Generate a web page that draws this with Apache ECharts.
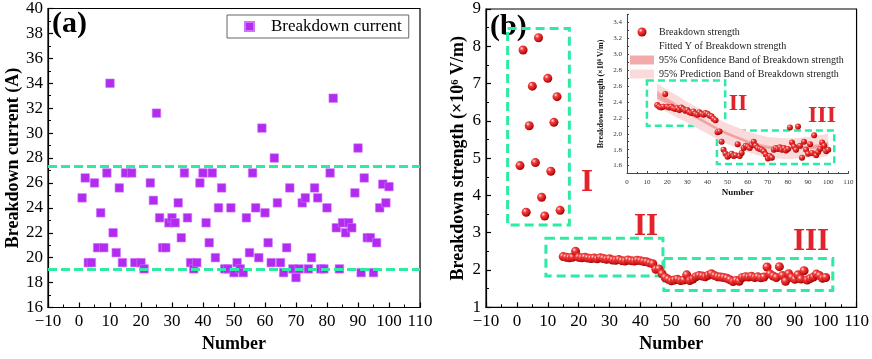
<!DOCTYPE html>
<html>
<head>
<meta charset="utf-8">
<script src="https://cdn.jsdelivr.net/npm/echarts@6.0.0/dist/echarts.min.js"></script>
<style>
  html, body { margin: 0; padding: 0; background: #fff; }
  #main { width: 872px; height: 359px; }
</style>
</head>
<body>
<div id="main"></div>
<script>
// (a) breakdown current
const numA = [
  1, 2, 3, 4, 5, 6, 7, 8, 9, 10,
  11, 12, 13, 14, 15, 17, 18, 20, 21, 23,
  24, 25, 26, 27, 28, 29, 30, 31, 32, 33,
  34, 35, 36, 37, 38, 39, 40, 41, 42, 43,
  44, 45, 46, 47, 48, 49, 50, 51, 52, 53,
  54, 55, 56, 57, 58, 59, 60, 61, 62, 63,
  64, 65, 66, 67, 68, 69, 70, 71, 72, 73,
  74, 75, 76, 77, 78, 79, 80, 81, 82, 83,
  84, 85, 86, 87, 88, 89, 90, 91, 92, 93,
  94, 95, 96, 97, 98, 99, 100
]
const currentA = [
  24.8, 26.4, 19.6, 19.6, 26.0, 20.8, 23.6, 20.8, 26.8, 34.0,
  22.0, 20.4, 25.6, 19.6, 26.8, 26.8, 19.6, 19.6, 19.1, 26.0,
  24.6, 31.6, 23.2, 20.8, 20.8, 22.8, 23.2, 22.8, 24.4, 21.6,
  26.8, 23.2, 19.6, 19.1, 19.6, 26.0, 26.8, 22.8, 21.2, 26.8,
  20.0, 24.0, 25.6, 19.1, 19.1, 24.0, 18.8, 19.6, 19.1, 18.8,
  23.2, 20.4, 26.8, 24.0, 20.0, 30.4, 23.6, 21.2, 19.6, 28.0,
  24.4, 19.6, 18.8, 20.8, 25.6, 19.1, 18.4, 19.1, 24.4, 24.8,
  19.1, 20.0, 25.6, 24.8, 19.1, 19.1, 24.0, 26.8, 32.8, 22.4,
  19.1, 22.8, 22.0, 22.8, 22.4, 25.2, 28.8, 18.8, 26.4, 21.6,
  21.6, 18.8, 21.2, 24.0, 25.9, 24.4, 25.7
]
// dashed limit lines of (a)
const limitsA = [27.3, 19.1]

// (b) breakdown strength (x10^6 V/m)
const numB = [
  1, 2, 3, 4, 5, 6, 7, 8, 9, 10,
  11, 12, 13, 14, 15, 16, 17, 18, 19, 20,
  21, 22, 23, 24, 25, 26, 27, 28, 29, 30,
  31, 32, 33, 34, 35, 36, 37, 38, 39, 40,
  41, 42, 43, 44, 45, 46, 47, 48, 49, 50,
  51, 52, 53, 54, 55, 56, 57, 58, 59, 60,
  61, 62, 63, 64, 65, 66, 67, 68, 69, 70,
  71, 72, 73, 74, 75, 76, 77, 78, 79, 80,
  81, 82, 83, 84, 85, 86, 87, 88, 89, 90,
  91, 92, 93, 94, 95, 96, 97, 98, 99, 100
]
const strengthB = [
  4.80, 7.90, 3.55, 5.87, 6.93, 4.88, 8.23, 3.95, 3.45, 7.14,
  4.65, 5.96, 6.65, 3.60, 2.36, 2.34, 2.33, 2.34, 2.50, 2.34,
  2.33, 2.34, 2.32, 2.31, 2.32, 2.30, 2.33, 2.31, 2.29, 2.30,
  2.27, 2.26, 2.28, 2.25, 2.24, 2.27, 2.25, 2.24, 2.26, 2.25,
  2.23, 2.22, 2.19, 2.17, 2.02, 2.03, 1.90, 1.80, 1.75, 1.71,
  1.73, 1.75, 1.72, 1.73, 1.87, 1.72, 1.76, 1.82, 1.85, 1.84,
  1.82, 1.86, 1.90, 1.85, 1.82, 1.81, 1.80, 1.78, 1.74, 1.69,
  1.72, 1.70, 1.80, 1.82, 1.81, 1.83, 1.80, 1.82, 1.79, 1.81,
  2.08, 1.89, 1.84, 1.80, 2.09, 1.85, 1.70, 1.90, 1.80, 1.75,
  1.87, 1.76, 1.98, 1.73, 1.77, 1.81, 1.89, 1.85, 1.78, 1.80
]
// inset shows stages II and III only (from No. 15)
const insetStart = 14

// inset fit and bands
const fitX = [15, 20, 25, 30, 35, 40, 45, 50, 55, 60, 65, 70, 75, 80, 85, 90, 95, 100]
const fitY = [2.49, 2.41, 2.34, 2.27, 2.20, 2.13, 2.06, 2.00, 1.95, 1.90, 1.86, 1.83, 1.82, 1.81, 1.82, 1.83, 1.84, 1.86]
const confLow = [2.44, 2.37, 2.31, 2.245, 2.18, 2.11, 2.04, 1.98, 1.93, 1.88, 1.84, 1.81, 1.80, 1.79, 1.80, 1.81, 1.81, 1.82]
const confHigh = [2.54, 2.45, 2.37, 2.295, 2.22, 2.15, 2.08, 2.02, 1.97, 1.92, 1.88, 1.85, 1.84, 1.83, 1.84, 1.85, 1.87, 1.90]
const predLow = [2.35, 2.27, 2.20, 2.14, 2.07, 2.00, 1.93, 1.87, 1.82, 1.77, 1.73, 1.70, 1.69, 1.68, 1.69, 1.70, 1.70, 1.72]
const predHigh = [2.63, 2.55, 2.48, 2.40, 2.33, 2.26, 2.19, 2.13, 2.08, 2.03, 1.99, 1.96, 1.95, 1.94, 1.95, 1.96, 1.98, 2.00]

// stage boxes [x1, y1, x2, y2] in data units
const boxesMain = [[-3, 3.21, 17, 8.48], [9.4, 1.84, 47.3, 2.85], [47.6, 1.45, 102.3, 2.31]]
const boxesInset = [[9.9, 2.10, 48.8, 2.67], [44.7, 1.62, 103, 2.04]]

const serif = 'Liberation Serif'
const green = '#2DEBA3'
const red = '#E3232C'

const chart = echarts.init(document.getElementById('main'), null, { renderer: 'canvas' })

const sphere = new echarts.graphic.RadialGradient(0.35, 0.32, 0.7, [
  { offset: 0, color: '#FFE8E8' },
  { offset: 0.3, color: '#F24040' },
  { offset: 0.8, color: '#CC1010' },
  { offset: 1, color: '#8E0000' },
])

function minus(v) {
  return String(v).replace('-', '\u2212')
}

function mainX(grid) {
  return {
    gridIndex: grid, type: 'value', min: -10, max: 110, interval: 10,
    name: 'Number', nameLocation: 'middle', nameGap: 28,
    nameTextStyle: { fontFamily: serif, fontWeight: 'bold', fontSize: 18, color: '#000' },
    axisLine: { onZero: false, lineStyle: { color: '#000', width: 1.2 } },
    axisTick: { inside: true, length: 5, lineStyle: { color: '#000', width: 1.2 } },
    minorTick: { show: true, splitNumber: 2, length: 3, lineStyle: { color: '#000', width: 1 } },
    splitLine: { show: false },
    axisLabel: { fontFamily: serif, fontSize: 17, color: '#000', margin: 6, formatter: minus },
  }
}

function mainY(grid, min, max, step, name, gap) {
  return {
    gridIndex: grid, type: 'value', min: min, max: max, interval: step,
    name: name, nameLocation: 'middle', nameGap: gap,
    nameTextStyle: { fontFamily: serif, fontWeight: 'bold', fontSize: 18, color: '#000' },
    axisLine: { onZero: false, lineStyle: { color: '#000', width: 1.2 } },
    axisTick: { inside: true, length: 5, lineStyle: { color: '#000', width: 1.2 } },
    minorTick: { show: true, splitNumber: 2, length: 3, lineStyle: { color: '#000', width: 1 } },
    splitLine: { show: false },
    axisLabel: { fontFamily: serif, fontSize: 17, color: '#000', margin: 5 },
  }
}

function boxArea(boxes, width, dash) {
  return {
    silent: true,
    label: { show: false },
    itemStyle: { color: 'rgba(0,0,0,0)', borderColor: green, borderWidth: width, borderType: dash },
    data: boxes.map(b => [{ coord: [b[0], b[3]] }, { coord: [b[2], b[1]] }]),
  }
}

function band(lo, hi, color) {
  return function (params, api) {
    const pts = []
    fitX.forEach((x, i) => pts.push(api.coord([x, hi[i]])))
    for (let i = fitX.length - 1; i >= 0; i--) pts.push(api.coord([fitX[i], lo[i]]))
    return { type: 'polygon', shape: { points: pts }, style: { fill: color } }
  }
}

const insetText = { fontFamily: serif, fontSize: 7, color: '#333' }

const option = {
  backgroundColor: '#fff',
  animation: false,
  grid: [
    { left: 48, top: 7.5, width: 372, height: 300, show: true, borderColor: '#000', borderWidth: 1.2 },
    { left: 486, top: 9, width: 372, height: 298.3, show: true, borderColor: '#000', borderWidth: 1.2 },
    { left: 627, top: 14.3, width: 221.3, height: 159.3, show: false },
  ],
  xAxis: [
    mainX(0),
    mainX(1),
    {
      gridIndex: 2, type: 'value', min: 0, max: 110, interval: 10,
      name: 'Number', nameLocation: 'middle', nameGap: 15,
      nameTextStyle: { fontFamily: serif, fontWeight: 'bold', fontSize: 9, color: '#111' },
      axisLine: { onZero: false, lineStyle: { color: '#444', width: 1 } },
      axisTick: { inside: true, length: 2.5, lineStyle: { color: '#444' } },
      minorTick: { show: true, splitNumber: 2, length: 1.5, lineStyle: { color: '#444' } },
      splitLine: { show: false },
      axisLabel: Object.assign({ margin: 5 }, insetText),
    },
  ],
  yAxis: [
    mainY(0, 16, 40, 2, 'Breakdown current (A)', 25),
    mainY(1, 1, 9, 1, 'Breakdown strength (\u00d710\u2076 V/m)', 19),
    {
      gridIndex: 2, type: 'value', min: 1.5, max: 3.5, interval: 0.1,
      name: 'Breakdown strength (\u00d710\u2076 V/m)', nameLocation: 'middle', nameGap: 22,
      nameTextStyle: { fontFamily: serif, fontWeight: 'bold', fontSize: 8, color: '#111' },
      axisLine: { onZero: false, lineStyle: { color: '#444', width: 1 } },
      axisTick: { inside: true, length: 2, lineStyle: { color: '#444' } },
      splitLine: { show: false },
      axisLabel: Object.assign({
        margin: 5,
        formatter: v => (Math.round(v * 10) % 2 === 0 ? v.toFixed(1) : ''),
      }, insetText),
    },
  ],
  legend: [
    {
      left: 227, top: 15, padding: [3, 7, 3, 17],
      borderColor: '#666', borderWidth: 1,
      itemWidth: 9, itemHeight: 9,
      textStyle: { fontFamily: serif, fontSize: 17, color: '#000', padding: [0, 0, 0, 12] },
      data: [{ name: 'Breakdown current', icon: 'rect' }],
      selectedMode: false,
    },
    {
      left: 630, top: 27, padding: 0, orient: 'vertical',
      itemWidth: 24, itemHeight: 9, itemGap: 4,
      textStyle: { fontFamily: serif, fontSize: 10, color: '#222', lineHeight: 9 },
      data: [
        { name: 'Breakdown strength', icon: 'circle' },
        { name: 'Fitted Y of Breakdown strength', icon: 'none' },
        { name: '95% Confidence Band of Breakdown strength', icon: 'rect' },
        { name: '95% Prediction Band of Breakdown strength', icon: 'rect' },
      ],
      selectedMode: false,
    },
  ],
  graphic: [
    { type: 'text', x: 52, y: 9, style: { text: '(a)', font: 'bold 30px "Liberation Serif"', fill: '#000' } },
    { type: 'text', x: 490, y: 12, style: { text: '(b)', font: 'bold 30px "Liberation Serif"', fill: '#000' } },
    { type: 'text', x: 587, y: 183, style: { text: 'I', font: 'bold 31px "Liberation Serif"', fill: red, align: 'center', verticalAlign: 'middle' } },
    { type: 'text', x: 646, y: 227, style: { text: 'II', font: 'bold 31px "Liberation Serif"', fill: red, align: 'center', verticalAlign: 'middle' } },
    { type: 'text', x: 811, y: 242, style: { text: 'III', font: 'bold 31px "Liberation Serif"', fill: red, align: 'center', verticalAlign: 'middle' } },
    { type: 'text', x: 738, y: 104, style: { text: 'II', font: 'bold 24px "Liberation Serif"', fill: red, align: 'center', verticalAlign: 'middle' } },
    { type: 'text', x: 822, y: 116, style: { text: 'III', font: 'bold 24px "Liberation Serif"', fill: red, align: 'center', verticalAlign: 'middle' } },
  ],
  series: [
    {
      name: 'Breakdown current', type: 'scatter', xAxisIndex: 0, yAxisIndex: 0,
      symbol: 'rect', symbolSize: 8.5,
      itemStyle: { color: '#B22CF0', borderColor: '#CF73FF', borderWidth: 0.6, opacity: 1 },
      data: numA.map((x, i) => [x, currentA[i]]),
      markLine: {
        silent: true, symbol: 'none', label: { show: false },
        lineStyle: { color: green, width: 3, type: [9, 4] },
        data: limitsA.map(v => ({ yAxis: v })),
      },
    },
    {
      name: 'Breakdown strength (all)', type: 'scatter', xAxisIndex: 1, yAxisIndex: 1,
      symbolSize: 9,
      itemStyle: { color: sphere, opacity: 1 },
      data: numB.map((x, i) => [x, strengthB[i]]),
      markArea: boxArea(boxesMain, 3, [9, 5]),
      z: 3,
    },
    {
      name: '95% Prediction Band of Breakdown strength', type: 'custom', xAxisIndex: 2, yAxisIndex: 2,
      renderItem: band(predLow, predHigh, '#FADADA'),
      itemStyle: { color: '#FADADA' },
      data: [[fitX[0], fitY[0]]],
      silent: true, z: 1,
    },
    {
      name: '95% Confidence Band of Breakdown strength', type: 'custom', xAxisIndex: 2, yAxisIndex: 2,
      renderItem: band(confLow, confHigh, '#F4AAAA'),
      itemStyle: { color: '#F4AAAA' },
      data: [[fitX[0], fitY[0]]],
      silent: true, z: 1,
    },
    {
      name: 'Fitted Y of Breakdown strength', type: 'line', xAxisIndex: 2, yAxisIndex: 2,
      smooth: true, symbol: 'none',
      lineStyle: { color: '#F09A9A', width: 1 },
      itemStyle: { color: '#F09A9A' },
      data: fitX.map((x, i) => [x, fitY[i]]),
      silent: true, z: 2,
    },
    {
      name: 'Breakdown strength', type: 'scatter', xAxisIndex: 2, yAxisIndex: 2,
      symbolSize: 6,
      itemStyle: { color: sphere, opacity: 1 },
      data: numB.slice(insetStart).map((x, i) => [x, strengthB[insetStart + i]]),
      markArea: boxArea(boxesInset, 2.5, [7, 4]),
      z: 3,
    },
  ],
}

chart.setOption(option)
</script>
</body>
</html>
